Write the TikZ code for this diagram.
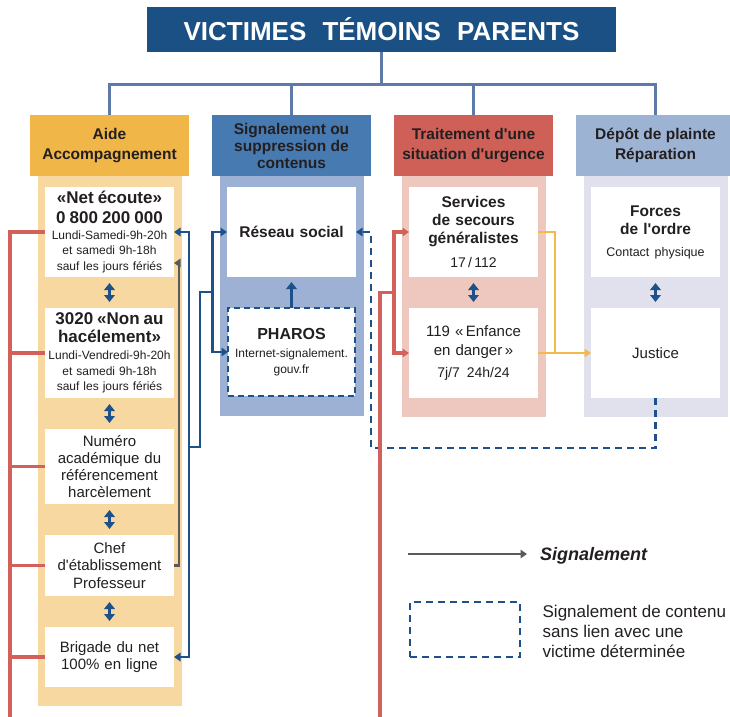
\documentclass[tikz,border=0pt]{standalone}
\usepackage{fontspec}
\setmainfont{Liberation Sans}[Ligatures=TeXOff]
\usepackage{tikz}
\usetikzlibrary{arrows.meta,positioning,calc,backgrounds}

\definecolor{titleblue}{RGB}{27,80,132}
\definecolor{trunkblue}{RGB}{94,122,168}
\definecolor{aideor}{RGB}{240,182,72}
\definecolor{aidepale}{RGB}{247,216,160}
\definecolor{signblue}{RGB}{72,122,178}
\definecolor{signpale}{RGB}{156,177,211}
\definecolor{urgred}{RGB}{206,96,88}
\definecolor{urgpale}{RGB}{238,200,191}
\definecolor{plaintblue}{RGB}{157,179,212}
\definecolor{plaintpale}{RGB}{225,225,237}
\definecolor{arrowblue}{RGB}{30,81,137}
\definecolor{linered}{RGB}{209,97,90}
\definecolor{linegray}{RGB}{90,90,90}
\definecolor{lineyellow}{RGB}{244,185,75}
\definecolor{ink}{RGB}{35,31,32}

\newcommand{\telb}[1]{{\fontsize{17}{20}\selectfont\bfseries #1}}
\newcommand{\petit}[1]{{\fontsize{14}{18}\selectfont\mdseries #1}}

\tikzstyle{titlebox} = [rectangle, fill=titleblue, text=white, font=\fontsize{26}{30}\selectfont\bfseries, minimum width=469pt, minimum height=45pt, inner sep=0pt, outer sep=0pt]
\tikzstyle{head} = [rectangle, text=ink, align=center, font=\fontsize{15.5}{19.5}\selectfont\bfseries, minimum width=159pt, minimum height=61pt, inner sep=0pt, outer sep=0pt]
\tikzstyle{box} = [rectangle, fill=white, text=ink, align=center, font=\fontsize{15}{17.3}\selectfont, text width=125pt, minimum width=129pt, inner sep=2pt, outer sep=0pt]
\tikzstyle{dashbox} = [box, draw=arrowblue, line width=2.6pt, dash pattern=on 6pt off 4pt, text width=123pt, minimum width=127pt]
\tikzstyle{trunk} = [draw=trunkblue, line width=2.5pt]
\tikzstyle{blueline} = [draw=arrowblue, line width=2.7pt]
\tikzstyle{redline} = [draw=linered, line width=3.1pt]
\tikzstyle{grayline} = [draw=linegray, line width=2.7pt]
\tikzstyle{yelline} = [draw=lineyellow, line width=2.7pt]
\tikzstyle{dashline} = [draw=arrowblue, line width=2.9pt, dash pattern=on 7pt off 5pt]
\tikzstyle{dbl} = [draw=arrowblue, line width=2.9pt, {Triangle[length=7pt,width=10.5pt]}-{Triangle[length=7pt,width=10.5pt]}]
\tikzstyle{uparrow} = [draw=arrowblue, line width=2.9pt, -{Triangle[length=7pt,width=10.5pt]}]
\tikzstyle{legsig} = [text=ink, font=\fontsize{18}{20}\selectfont\bfseries\itshape, inner sep=0pt]
\tikzstyle{legtext} = [text=ink, align=left, font=\fontsize{17}{20}\selectfont, inner sep=2pt]

\begin{document}
\begin{tikzpicture}[>={Triangle[length=6.5pt,width=8.5pt]}]
\useasboundingbox (0pt,0pt) rectangle (730pt,-716pt);

% headers =============================
\node[titlebox] (title) at (381.5pt,-29pt) {VICTIMES\hspace{0.62em}TÉMOINS\hspace{0.62em}PARENTS};

\node[head, fill=aideor] (aide) at (109.5pt,-145.5pt) {Aide\\Accompagnement};
\node[head, fill=signblue, right=23pt of aide, font=\fontsize{15.5}{17}\selectfont\bfseries] (sign) {Signalement ou\\suppression de\\contenus};
\node[head, fill=urgred, right=23pt of sign] (urgence) {Traitement d'une\\situation d'urgence};
\node[head, fill=plaintblue, right=23pt of urgence] (plainte) {Dépôt de plainte\\Réparation};

% aide column
\node[box, minimum height=90pt, below=11pt of aide, font=\fontsize{12}{15.5}\selectfont] (net) {\telb{«Net écoute»}\\[4.5pt]\telb{0 800 200 000}\\[0.5pt]Lundi-Samedi-9h-20h\\et samedi 9h-18h\\sauf les jours fériés};
\node[box, minimum height=90pt, below=31pt of net, font=\fontsize{12}{15.5}\selectfont] (nonau) {\telb{3020 «Non au}\\[2.5pt]\telb{hacélement»}\\[1.5pt]Lundi-Vendredi-9h-20h\\et samedi 9h-18h\\sauf les jours fériés};
\node[box, minimum height=75pt, below=31pt of nonau] (numaca) {Numéro\\académique du\\référencement\\harcèlement};
\node[box, minimum height=61pt, below=31pt of numaca] (chef) {Chef\\d'établissement\\Professeur};
\node[box, minimum height=60pt, below=31pt of chef] (brigade) {Brigade du net\\100\% en ligne};

% signalement column
\node[box, minimum height=90pt, below=11pt of sign, font=\fontsize{15.5}{18}\selectfont\bfseries] (reseau) {Réseau social};
\node[dashbox, minimum height=88pt, below=31pt of reseau, font=\fontsize{12}{16}\selectfont] (pharos) {{\fontsize{16}{18}\selectfont\bfseries PHAROS}\\[2pt]Internet-signalement.\\gouv.fr};

% urgence column
\node[box, minimum height=90pt, below=11pt of urgence, font=\fontsize{15.5}{18}\selectfont\bfseries] (secours) {Services\\de secours\\généralistes\\[6pt]\petit{17\,/\,112}};
\node[box, minimum height=90pt, below=31pt of secours, font=\fontsize{15}{19}\selectfont] (enfance) {119 «\,Enfance\\en danger\,»\\[3pt]\petit{7j/7\hspace{0.5em}24h/24}};

% plainte column
\node[box, minimum height=90pt, below=11pt of plainte, font=\fontsize{15.5}{18}\selectfont\bfseries] (forces) {Forces\\de l'ordre\\[4pt]{\fontsize{12.5}{18}\selectfont\mdseries Contact physique}};
\node[box, minimum height=90pt, below=31pt of forces] (justice) {Justice};

% panels
\begin{scope}[on background layer]
\fill[aidepale] ($(aide.south west)+(7.5pt,0)$) rectangle ($(brigade.south east)+(7.5pt,-19pt)$);
\fill[signpale] ($(sign.south west)+(7.5pt,0)$) rectangle ($(pharos.south east)+(8.5pt,-20pt)$);
\fill[urgpale] ($(urgence.south west)+(7.5pt,0)$) rectangle ($(enfance.south east)+(7.5pt,-19pt)$);
\fill[plaintpale] ($(plainte.south west)+(7.5pt,0)$) rectangle ($(justice.south east)+(7.5pt,-19pt)$);
\end{scope}

% trunk edges
\draw[trunk] (title.south) -- ++(0,-33pt) coordinate (bus);
\foreach \h in {aide,sign,urgence,plainte}
  \draw[trunk] (bus) -| (\h.north);

% edges inside columns
\foreach \a/\b in {net/nonau,nonau/numaca,numaca/chef,chef/brigade,secours/enfance,forces/justice}
  \draw[dbl] ([yshift=-6pt]\a.south) -- ([yshift=6pt]\b.north);
\draw[uparrow] (pharos.north) -- ([yshift=-5pt]reseau.south);

% blue edges
\draw[blueline, <->] (net.east) -- ++(15pt,0) coordinate (bv) |- (brigade.east);
\coordinate (bj) at ($(bv |- numaca.north)+(0,-18pt)$);
\coordinate (sj) at ($(reseau.west)!.5!(pharos.west)+(-15pt,0)$);
\draw[blueline] (bj) -- ++(11pt,0) |- (sj);
\draw[blueline, ->] (sj) |- (reseau.west);
\draw[blueline, ->] (sj) |- (pharos.west);

% gray edge
\draw[grayline, ->] (chef.east) -- ++(5pt,0) |- ($(net.south east)+(0,14pt)$);

% dashed edge
\draw[dashline, ->] (justice.south) -- ++(0,-50pt) -| ($(reseau.east)+(15pt,0)$) -- (reseau.east);

% red edges
\coordinate (rl) at (10pt,-718pt);
\draw[redline] (rl) |- (net.west);
\foreach \b in {nonau,numaca,chef,brigade}
  \draw[redline] (\b.west) -- (\b.west -| rl);
\coordinate (rr) at (380pt,-718pt);
\coordinate (tj) at ($(secours.west)!.5!(enfance.west)+(-15pt,0)$);
\draw[redline] (rr) |- (tj);
\draw[redline, ->] (tj) |- (secours.west);
\draw[redline, ->] (tj) |- (enfance.west);

% yellow edges
\draw[yelline] (secours.east) -- ++(17pt,0) |- (enfance.east);
\draw[yelline, ->] (enfance.east) -- (justice.west);

% legend
\coordinate (legfrom) at (408pt,-554pt);
\coordinate (legto) at (527pt,-554pt);
\node[legsig, right=13pt of legto, yshift=-2pt] (legsig) {Signalement};
\draw[grayline, ->] (legfrom) -- (legto);
\node[draw=arrowblue, line width=2.9pt, dash pattern=on 7pt off 5pt, minimum width=110pt, minimum height=55pt] (legbox) at (465pt,-629.5pt) {};
\node[legtext, right=19pt of legbox, yshift=-2pt] (legdesc) {Signalement de contenu\\sans lien avec une\\victime déterminée};

\end{tikzpicture}
\end{document}
